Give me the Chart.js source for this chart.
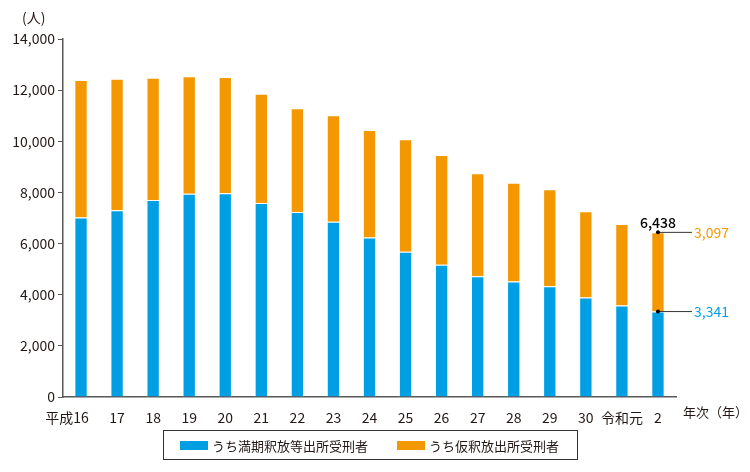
<!DOCTYPE html>
<html>
<head>
<meta charset="utf-8">
<script src="https://cdn.jsdelivr.net/npm/chart.js@4/dist/chart.umd.min.js"></script>
<style>
  html, body { margin: 0; padding: 0; background: #fff; }
  #wrap { width: 750px; height: 472px; }
</style>
</head>
<body>
<div id="wrap"><canvas id="released"></canvas></div>
<script>
const years = ['平成16', '17', '18', '19', '20', '21', '22', '23', '24', '25', '26', '27', '28', '29', '30', '令和元', '2'];
const fullRelease = [7020, 7300, 7700, 7950, 7970, 7590, 7230, 6850, 6240, 5680, 5170, 4720, 4520, 4330, 3890, 3580, 3341];
const parole = [5380, 5150, 4780, 4590, 4545, 4270, 4060, 4170, 4200, 4400, 4290, 4030, 3860, 3790, 3370, 3190, 3097];
const yTicks = [0, 2000, 4000, 6000, 8000, 10000, 12000, 14000];

const BLUE = '#009fe3';
const ORANGE = '#f39800';
const TEXT = '#231815';
const AXIS = '#595757';
const FONT = '"Noto Sans CJK JP", "Noto Sans", sans-serif';

const fmt = v => v.toLocaleString('en-US');

// labels, unit texts and the boxed legend
const extras = {
    id: 'extras',
    afterDatasetsDraw(chart) {
        const ctx = chart.ctx;
        const y = chart.scales.y;
        const last = years.length - 1;
        const blueBar = chart.getDatasetMeta(0).data[last];
        const orangeBar = chart.getDatasetMeta(1).data[last];
        const total = fullRelease[last] + parole[last];
        ctx.save();

        // total above last bar
        ctx.font = '500 14px ' + FONT;
        ctx.fillStyle = '#000';
        ctx.textAlign = 'center';
        ctx.textBaseline = 'bottom';
        ctx.fillText(fmt(total), orangeBar.x, y.getPixelForValue(total) - 3);

        // leader lines
        const pts = [
            [y.getPixelForValue(total), parole[last], ORANGE],
            [y.getPixelForValue(fullRelease[last]), fullRelease[last], BLUE]
        ];
        pts.forEach(([py, val, col]) => {
            ctx.strokeStyle = '#333';
            ctx.lineWidth = 1;
            ctx.beginPath();
            ctx.moveTo(blueBar.x, py);
            ctx.lineTo(blueBar.x + 34, py);
            ctx.stroke();
            ctx.fillStyle = '#000';
            ctx.beginPath();
            ctx.arc(blueBar.x, py, 2, 0, Math.PI * 2);
            ctx.fill();
            ctx.font = '14px ' + FONT;
            ctx.fillStyle = col;
            ctx.textAlign = 'left';
            ctx.textBaseline = 'middle';
            ctx.fillText(fmt(val), blueBar.x + 36, py);
        });

        // unit labels
        ctx.fillStyle = TEXT;
        ctx.font = '14px ' + FONT;
        ctx.textAlign = 'left';
        ctx.textBaseline = 'middle';
        ctx.fillText('(人)', 22, 18);
        ctx.font = '13px ' + FONT;
        ctx.fillText('年次（年）', 683, 412);

        // legend box
        ctx.strokeStyle = '#333';
        ctx.lineWidth = 1;
        ctx.strokeRect(163.5, 430.5, 414, 29);
        const items = [
            [chart.data.datasets[0].label, BLUE, 180],
            [chart.data.datasets[1].label, ORANGE, 397]
        ];
        items.forEach(([label, col, x]) => {
            ctx.fillStyle = col;
            ctx.fillRect(x, 441, 28, 9);
            ctx.fillStyle = TEXT;
            ctx.font = '13px ' + FONT;
            ctx.fillText(label, x + 32, 446);
        });
        ctx.restore();
    }
};

const chartReleased = new Chart(document.getElementById('released').getContext('2d'), {
    type: 'bar',
    data: {
        labels: years,
        datasets: [
            {
                label: 'うち満期釈放等出所受刑者',
                data: fullRelease,
                backgroundColor: BLUE,
                borderColor: 'rgba(255,255,255,0.6)',
                borderWidth: 1,
                barPercentage: 0.37,
                categoryPercentage: 1
            },
            {
                label: 'うち仮釈放出所受刑者',
                data: parole,
                backgroundColor: ORANGE,
                borderColor: 'rgba(255,255,255,0.6)',
                borderWidth: 1,
                barPercentage: 0.37,
                categoryPercentage: 1
            }
        ]
    },
    options: {
        responsive: true,
        maintainAspectRatio: false,
        animation: false,
        layout: { padding: { top: 39, right: 74, bottom: 47, left: 0 } },
        scales: {
            x: {
                stacked: true,
                grid: { display: false },
                border: { color: AXIS, width: 1.5 },
                ticks: {
                    color: TEXT,
                    font: { family: FONT, size: 14 },
                    padding: 4,
                    maxRotation: 0,
                    autoSkip: false,
                    // keep the year digits of the first label under its bar
                    callback: (v, i) => i === 0 ? years[i] + '\u3000\u3000' : years[i]
                },
                afterFit: s => { s.height = 28; }
            },
            y: {
                stacked: true,
                min: 0,
                max: 14000,
                afterBuildTicks: s => { s.ticks = yTicks.map(v => ({ value: v })); },
                grid: { drawOnChartArea: false, tickLength: 5, color: AXIS },
                border: { color: AXIS, width: 1.5 },
                ticks: {
                    color: TEXT,
                    font: { family: FONT, size: 14 },
                    padding: 3,
                    callback: v => fmt(v)
                },
                afterFit: s => { s.width = 63; }
            }
        },
        plugins: {
            legend: { display: false },
            tooltip: { enabled: false }
        }
    },
    plugins: [extras]
});
</script>
</body>
</html>
